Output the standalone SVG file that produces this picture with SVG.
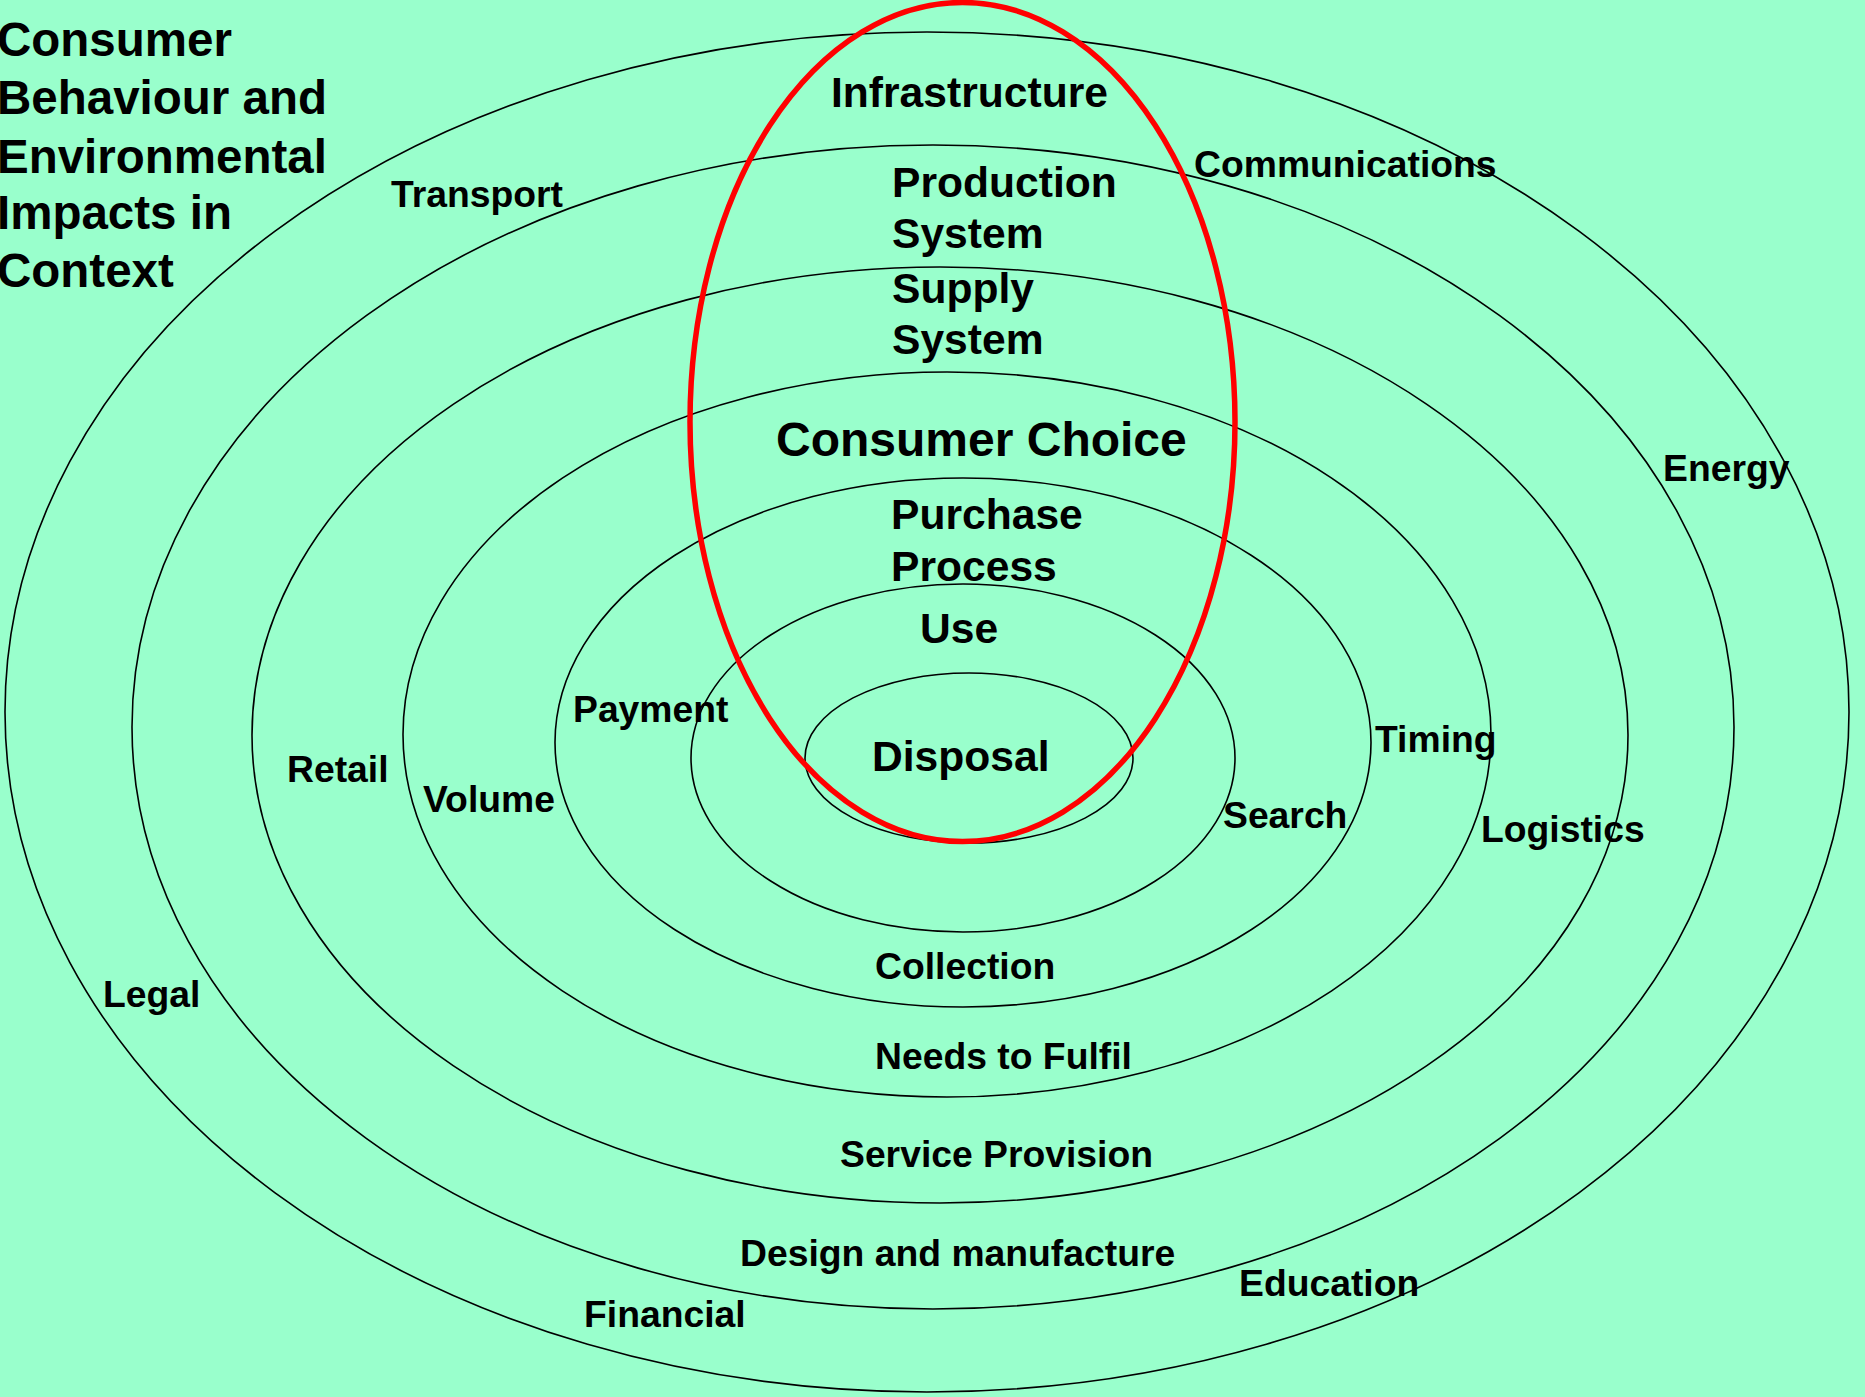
<svg xmlns="http://www.w3.org/2000/svg" width="1865" height="1397" viewBox="0 0 1865 1397">
  <style>
    .ring { fill: none; stroke: #000000; stroke-width: 1.6; }
    .focus { fill: none; stroke: #FF0000; stroke-width: 5.5; }
    text { font-family: "Liberation Sans", Arial, sans-serif; font-weight: bold; fill: #000000; }
    .title { font-size: 47.5px; }
    .big { font-size: 42.6px; }
    .core { font-size: 48px; }
    .lab { font-size: 37.3px; }
  </style>

  <!-- background -->
  <rect x="0" y="0" width="1865" height="1397" fill="#99FFCC"/>

  <!-- concentric context rings, outermost first -->
  <g id="rings">
    <ellipse id="ring-infrastructure" class="ring" cx="927" cy="712" rx="922" ry="680"/>
    <ellipse id="ring-production" class="ring" cx="933" cy="727" rx="801" ry="582"/>
    <ellipse id="ring-supply" class="ring" cx="940" cy="735" rx="688" ry="468"/>
    <ellipse id="ring-choice" class="ring" cx="947" cy="734.5" rx="544" ry="362.5"/>
    <ellipse id="ring-purchase" class="ring" cx="963" cy="742.5" rx="408" ry="264.5"/>
    <ellipse id="ring-use" class="ring" cx="963" cy="758" rx="272" ry="174"/>
    <ellipse id="ring-disposal" class="ring" cx="969" cy="758" rx="164" ry="85"/>
  </g>

  <!-- highlighted vertical slice through all rings -->
  <g id="focus">
    <ellipse class="focus" cx="962.5" cy="422" rx="272.5" ry="419.5"/>
  </g>

  <!-- heading -->
  <g id="heading">
    <text class="title" x="-3" y="56">Consumer</text>
    <text class="title" x="-3" y="114">Behaviour and</text>
    <text class="title" x="-3" y="173">Environmental</text>
    <text class="title" x="-3" y="229">Impacts in</text>
    <text class="title" x="-3" y="287">Context</text>
  </g>

  <!-- ring names along the slice -->
  <g id="ring-names">
    <text class="big" x="831" y="107">Infrastructure</text>
    <text class="big" x="892" y="197">Production</text>
    <text class="big" x="892" y="248">System</text>
    <text class="big" x="892" y="303">Supply</text>
    <text class="big" x="892" y="354">System</text>
    <text class="core" x="776" y="456">Consumer Choice</text>
    <text class="big" x="891" y="529">Purchase</text>
    <text class="big" x="891" y="581">Process</text>
    <text class="big" x="920" y="643">Use</text>
    <text class="big" x="872" y="771">Disposal</text>
  </g>

  <!-- factors placed around the rings -->
  <g id="factors">
    <text class="lab" x="391" y="207">Transport</text>
    <text class="lab" x="1194" y="177">Communications</text>
    <text class="lab" x="1663" y="481">Energy</text>
    <text class="lab" x="287" y="782">Retail</text>
    <text class="lab" x="423" y="812">Volume</text>
    <text class="lab" x="573" y="722">Payment</text>
    <text class="lab" x="1375" y="752">Timing</text>
    <text class="lab" x="1223" y="828">Search</text>
    <text class="lab" x="1481" y="842">Logistics</text>
    <text class="lab" x="103" y="1007">Legal</text>
    <text class="lab" x="875" y="979">Collection</text>
    <text class="lab" x="875" y="1069">Needs to Fulfil</text>
    <text class="lab" x="840" y="1167">Service Provision</text>
    <text class="lab" x="740" y="1266">Design and manufacture</text>
    <text class="lab" x="584" y="1327">Financial</text>
    <text class="lab" x="1239" y="1296">Education</text>
  </g>
</svg>
